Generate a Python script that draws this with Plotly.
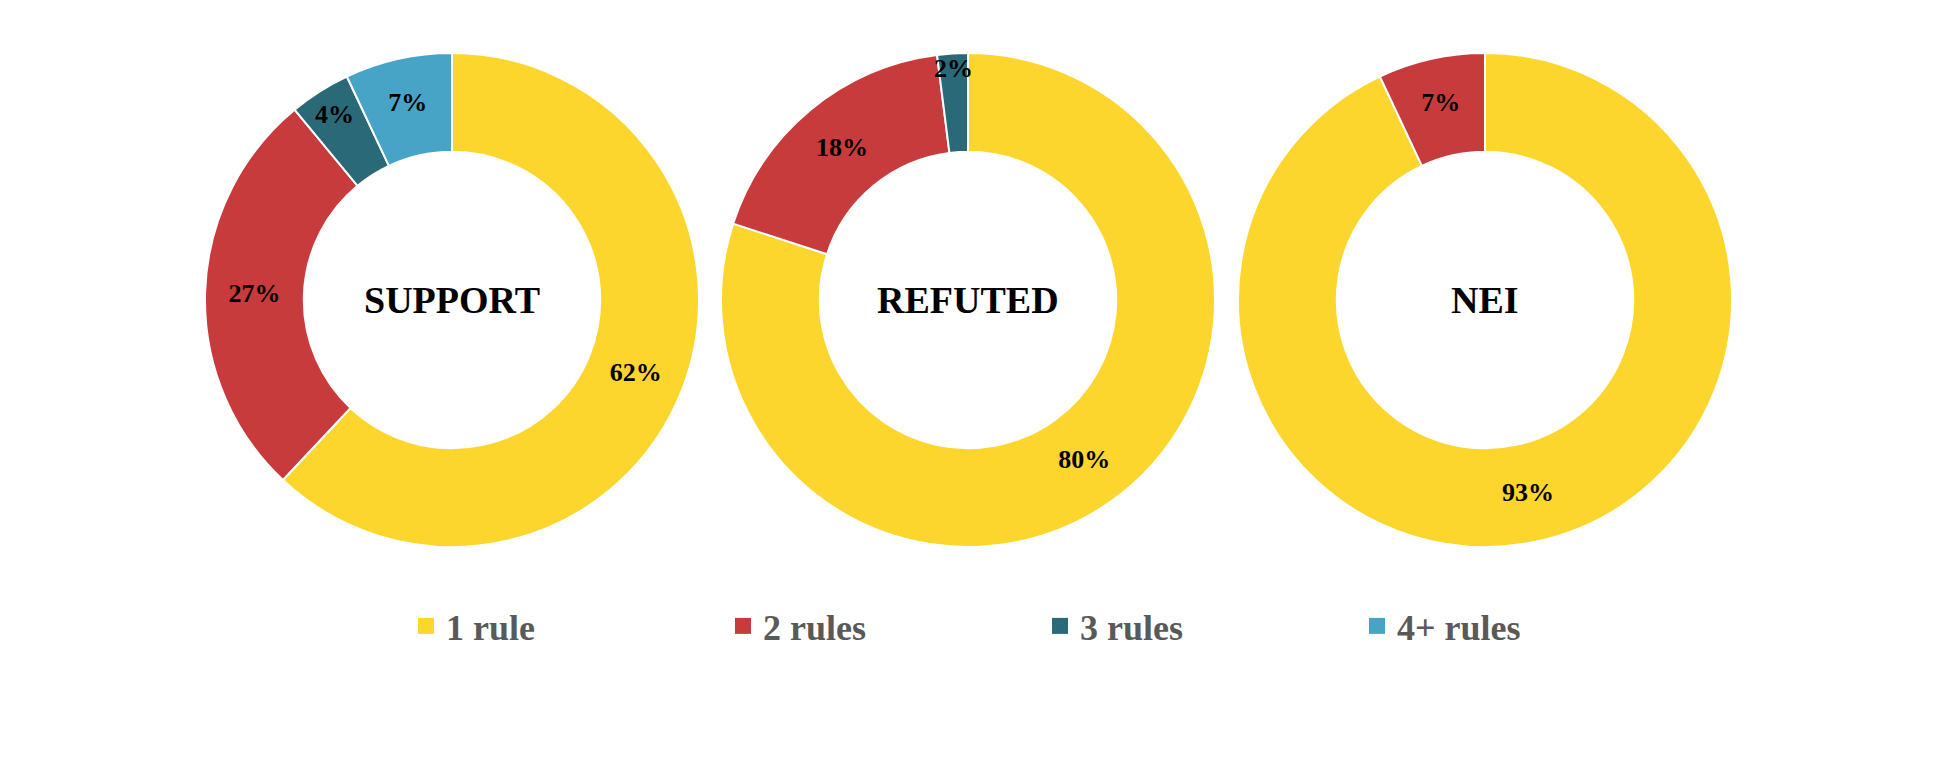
import plotly.graph_objects as go

# Datos (porcentajes)
labels = ["1 rule", "2 rules", "3 rules", "4+ rules"]
colors = ["#FDD62D", "#C83B3C", "#2A6978", "#47A4C7"]

groups = ["SUPPORT", "REFUTED", "NEI"]
support_vals = [62, 27, 4, 7]
refuted_vals = [80, 18, 2]
nei_vals = [93, 7]
all_vals = [support_vals, refuted_vals, nei_vals]

W, H = 1937, 765
off = 8  # margen del body de la pagina
centers_x = [452 - off, 968 - off, 1485 - off]
center_y = 300 - off
radius = 247

fig = go.Figure()

for i, (name, vals) in enumerate(zip(groups, all_vals)):
    cx = centers_x[i]
    dom_x = [(cx - radius) / W, (cx + radius) / W]
    dom_y = [1 - (center_y + radius) / H, 1 - (center_y - radius) / H]
    fig.add_trace(go.Pie(
        labels=labels[:len(vals)],
        values=vals,
        hole=0.6,
        sort=False,
        direction="clockwise",
        rotation=0,
        marker=dict(colors=colors[:len(vals)], line=dict(color="white", width=2)),
        texttemplate="%{value}%",
        textposition="inside",
        insidetextorientation="horizontal",
        textfont=dict(family="Liberation Serif", size=26, color="black", weight="bold"),
        domain=dict(x=dom_x, y=dom_y),
        showlegend=False,
        name=name,
    ))
    fig.add_annotation(
        x=(dom_x[0] + dom_x[1]) / 2, y=(dom_y[0] + dom_y[1]) / 2,
        xref="paper", yref="paper", xanchor="center", yanchor="middle",
        text="<b>" + name + "</b>", showarrow=False,
        font=dict(family="Liberation Serif", size=38, color="black"),
    )

# Leyenda con cuadrados
for lab, col in zip(labels, colors):
    fig.add_trace(go.Scatter(
        x=[None], y=[None], mode="markers", name=lab,
        marker=dict(symbol="square", size=16, color=col),
    ))

fig.update_layout(
    width=W, height=H,
    paper_bgcolor="white", plot_bgcolor="white",
    margin=dict(l=0, r=0, t=0, b=0),
    xaxis=dict(visible=False), yaxis=dict(visible=False),
    uniformtext=dict(minsize=26, mode="show"),
    legend=dict(
        orientation="h", x=398 / W, xanchor="left", y=1 - (626 - off) / H, yanchor="middle",
        entrywidth=272, traceorder="normal",
        font=dict(family="Liberation Serif", size=36, color="#595959", weight="bold"),
    ),
)

fig.write_html("out.html")
